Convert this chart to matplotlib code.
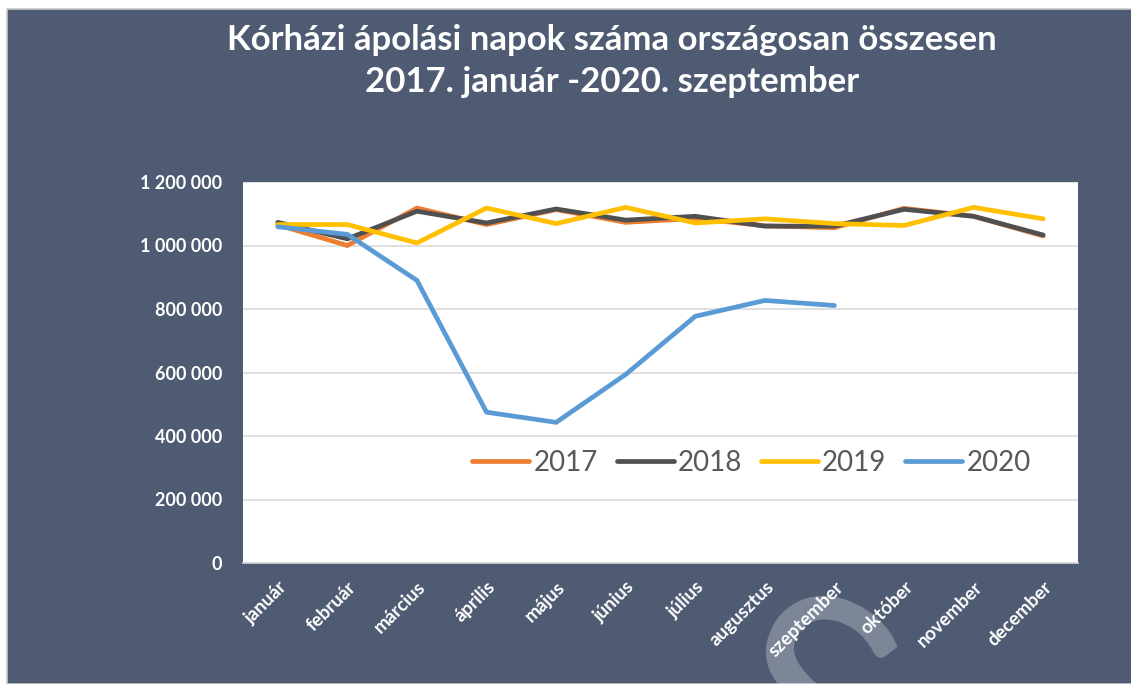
import matplotlib.pyplot as plt
from matplotlib.patches import Rectangle
from matplotlib.ticker import FuncFormatter

months = ["január", "február", "március", "április", "május", "június",
          "július", "augusztus", "szeptember", "október", "november", "december"]
years = ["2017", "2018", "2019", "2020"]

v2017 = [1065000, 1000000, 1118000, 1066000, 1113000, 1073000,
         1085000, 1062000, 1056000, 1117000, 1092000, 1030000]
v2018 = [1073000, 1021000, 1108000, 1071000, 1115000, 1080000,
         1092000, 1061000, 1061000, 1114000, 1092000, 1033000]
v2019 = [1066000, 1066000, 1008000, 1118000, 1069000, 1120000,
         1071000, 1084000, 1069000, 1063000, 1120000, 1084000]
v2020 = [1059000, 1035000, 890000, 475000, 443000, 594000,
         777000, 827000, 811000]

colors = ["#ED7D31", "#505050", "#FFC000", "#5B9BD5"]
BG = "#4E5B72"

plt.rcParams["font.family"] = ["Lato", "DejaVu Sans"]

fig = plt.figure(figsize=(11.31, 6.84), dpi=100)
fig.patch.set_facecolor("white")
fig.patches.append(Rectangle((6.5 / 1131, 0), 1, (684 - 9) / 684,
                             transform=fig.transFigure, facecolor=BG,
                             edgecolor="#C8C8C8", linewidth=1.2, zorder=-10))

# faint watermark letter at the bottom edge (cut off, as in the source image)
fig.text(795 / 1131, -0.28, "S", ha="center", va="bottom", fontsize=210,
         fontweight="normal", color="white", alpha=0.27, rotation=-25, zorder=-5)

ax = fig.add_axes([243 / 1131, 1 - 563 / 684, (1078 - 243) / 1131, (563 - 182) / 684])
ax.set_zorder(2)
ax.set_facecolor("white")

for vals, year, c in zip([v2017, v2018, v2019, v2020], years, colors):
    ax.plot(range(len(vals)), vals, color=c, linewidth=3.4, label=year,
            solid_capstyle="round", solid_joinstyle="miter")

ax.set_xlim(-0.5, 11.5)
ax.set_ylim(0, 1200000)
ax.set_yticks(range(0, 1200001, 200000))
ax.yaxis.set_major_formatter(FuncFormatter(lambda v, p: f"{int(v):,}".replace(",", " ")))
ax.grid(axis="y", color="#D9D9D9", linewidth=1.2)
ax.set_axisbelow(True)
for s in ["top", "right", "left"]:
    ax.spines[s].set_visible(False)
ax.spines["bottom"].set_color("#D9D9D9")
ax.spines["bottom"].set_linewidth(1.2)
ax.tick_params(axis="both", length=0, colors="white")
ax.tick_params(axis="y", pad=15, labelsize=13)
for lbl in ax.get_yticklabels():
    lbl.set_fontweight("bold")

ax.set_xticks(range(len(months)))
ax.set_xticklabels(months, rotation=45, ha="right", rotation_mode="anchor",
                   fontsize=13.5, fontweight="bold", color="white")
ax.tick_params(axis="x", pad=11)

leg = ax.legend(loc="center", bbox_to_anchor=(0.609, 0.262), ncol=4, frameon=False,
                fontsize=20, handlelength=2.05, handletextpad=0.15, columnspacing=0.68)
for t in leg.get_texts():
    t.set_color("#595959")

fig.text(0.541, 1 - 40 / 684, "Kórházi ápolási napok száma országosan összesen",
         ha="center", va="center", fontsize=25, fontweight="bold", color="white")
fig.text(0.541, 1 - 82 / 684, "2017. január -2020. szeptember",
         ha="center", va="center", fontsize=25, fontweight="bold", color="white")

fig.savefig("out.png", dpi=100, facecolor=fig.get_facecolor())
